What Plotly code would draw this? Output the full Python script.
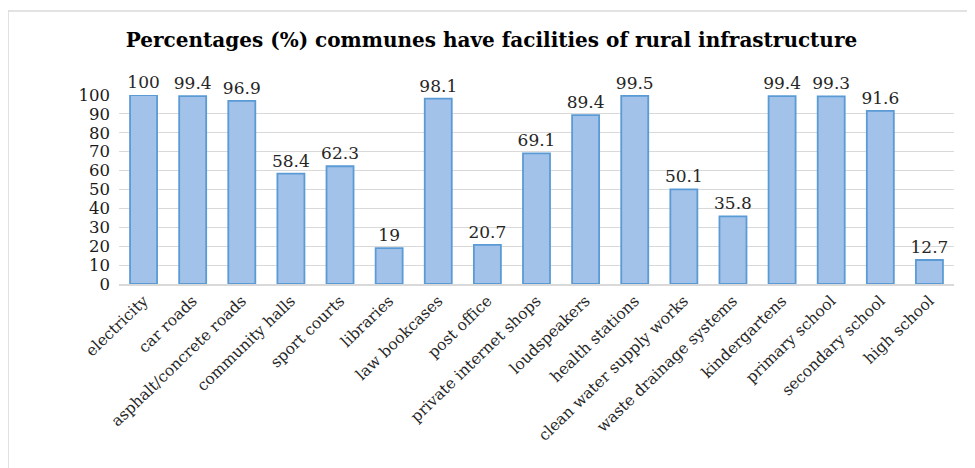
import plotly.graph_objects as go

categories = ["electricity", "car roads", "asphalt/concrete roads", "community halls",
              "sport courts", "libraries", "law bookcases", "post office",
              "private internet shops", "loudspeakers", "health stations",
              "clean water supply works", "waste drainage systems", "kindergartens",
              "primary school", "secondary school", "high school"]
values = [100, 99.4, 96.9, 58.4, 62.3, 19, 98.1, 20.7, 69.1, 89.4, 99.5,
          50.1, 35.8, 99.4, 99.3, 91.6, 12.7]
labels = ["100", "99.4", "96.9", "58.4", "62.3", "19", "98.1", "20.7", "69.1",
          "89.4", "99.5", "50.1", "35.8", "99.4", "99.3", "91.6", "12.7"]
yticks = list(range(0, 101, 10))

# page body has an 8px margin; size the figure to the visible window
OFF = 8
W, H = 975 - OFF, 468 - OFF
L, R, T, B = 119 - OFF, 21, 95 - OFF, 184
pw, ph = W - L - R, H - T - B

def px_x(x):
    return (x - OFF - L) / pw

def px_y(y):
    return (H - B - (y - OFF)) / ph

SERIF = "DejaVu Serif"

fig = go.Figure(go.Bar(
    x=categories, y=values, text=labels, textposition="outside",
    constraintext="none",
    textfont=dict(family=SERIF, size=17, color="#262626"),
    marker=dict(color="#A2C2E9", line=dict(color="#5B9BD5", width=1.8)),
    cliponaxis=False,
))

fig.update_layout(
    width=W, height=H,
    margin=dict(l=L, r=R, t=T, b=B, autoexpand=False),
    paper_bgcolor="white", plot_bgcolor="white",
    bargap=0.45,
    showlegend=False,
    title=dict(text="<b>Percentages (%) communes have facilities of rural infrastructure</b>",
               x=0.5, xanchor="center", y=1 - (40 - OFF) / H, yanchor="middle",
               font=dict(family=SERIF, size=20, color="#000000")),
    xaxis=dict(tickangle=-44, tickfont=dict(family=SERIF, size=15.5, color="#262626"),
               showline=True, linecolor="#D9D9D9", linewidth=1.5, ticks="", showgrid=False,
               automargin=False),
    yaxis=dict(range=[0, 100], tickvals=yticks, showgrid=True, gridcolor="#D9D9D9",
               gridwidth=1, zeroline=False, ticks="", ticklabelstandoff=8, automargin=False,
               tickfont=dict(family=SERIF, size=16.5, color="#1a1a1a")),
    shapes=[
        dict(type="line", xref="paper", yref="paper", x0=px_x(8), x1=px_x(975), y0=px_y(11), y1=px_y(11),
             line=dict(color="#D9D9D9", width=1.5)),
        dict(type="line", xref="paper", yref="paper", x0=px_x(8), x1=px_x(8), y0=px_y(11), y1=px_y(468),
             line=dict(color="#D9D9D9", width=1.5)),
    ],
)

fig.write_html("out.html")
